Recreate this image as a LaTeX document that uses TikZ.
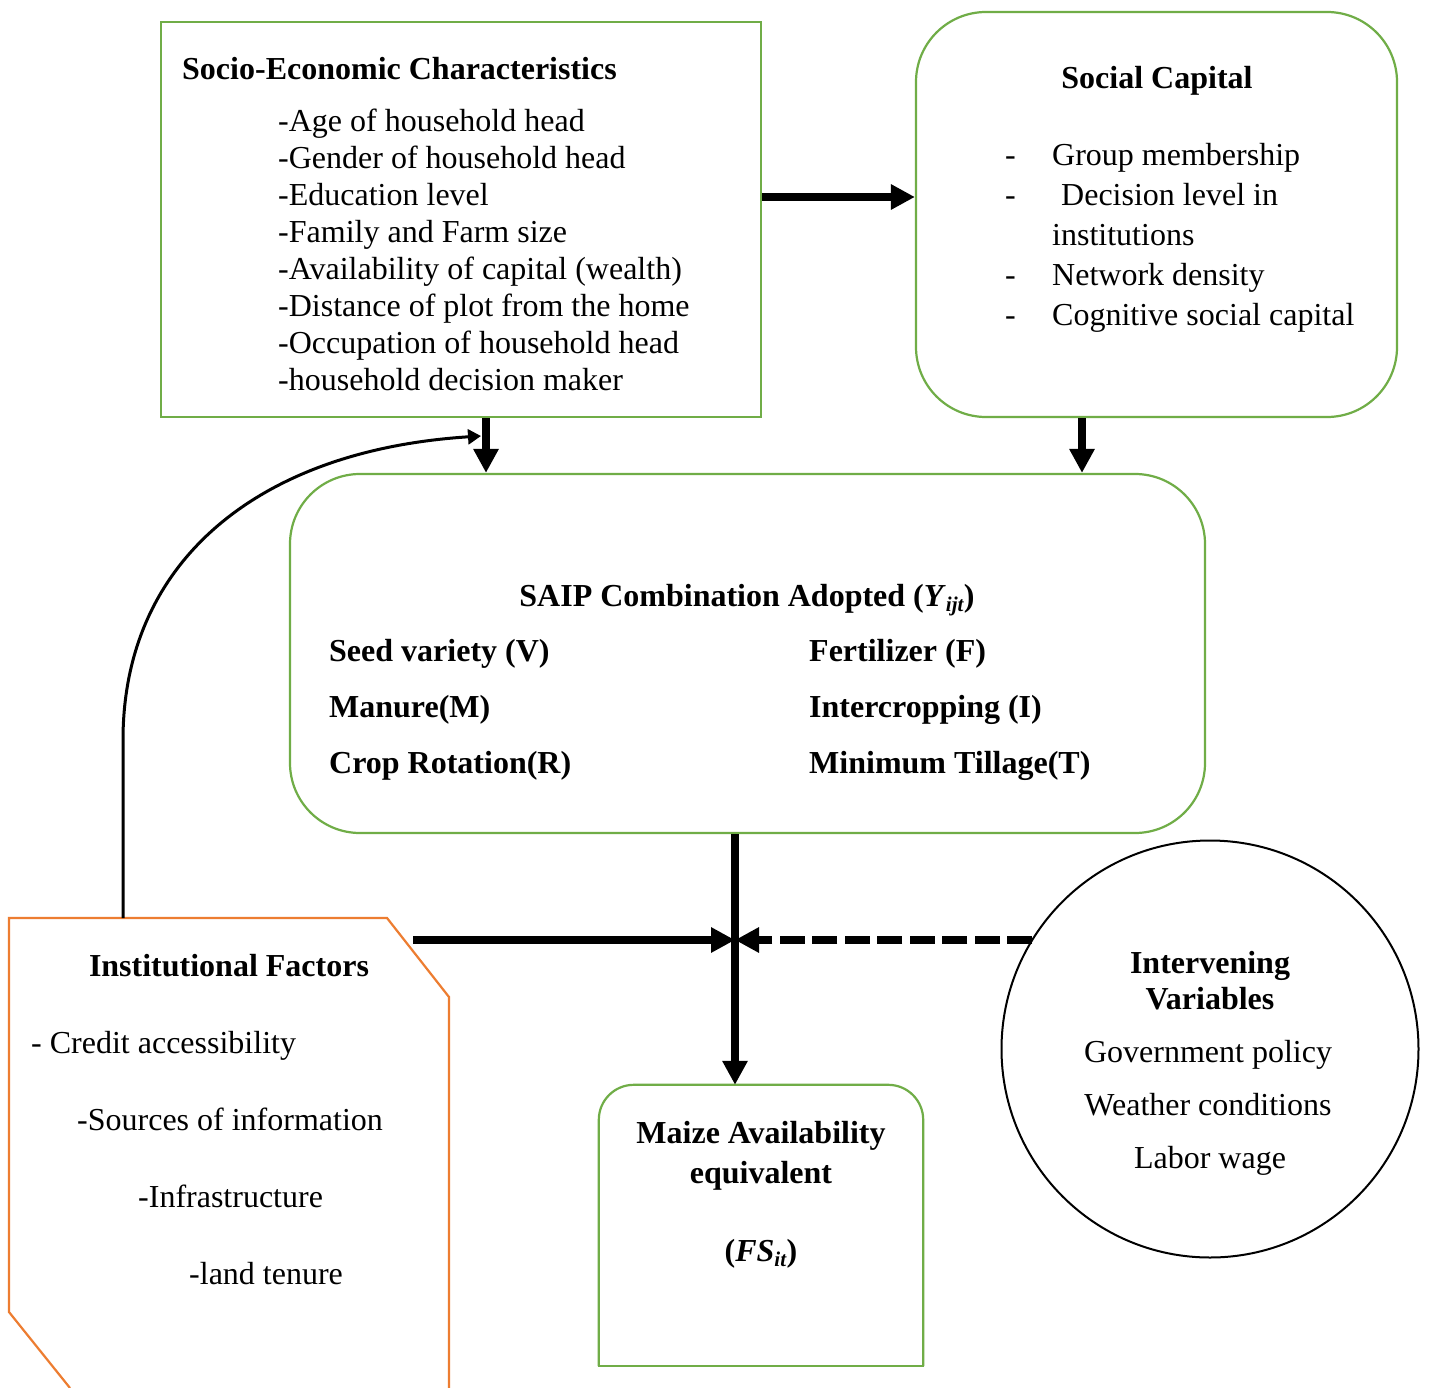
\documentclass[tikz,border=0pt]{standalone}
\usepackage{fontspec}
\setmainfont{Liberation Serif}
\usetikzlibrary{arrows.meta,calc}
\definecolor{boxgreen}{RGB}{112,173,71}
\definecolor{boxorange}{RGB}{237,125,49}
\tikzset{
  greenbox/.style={draw=boxgreen, line width=2.2pt, inner sep=0pt},
  txt/.style={inner sep=0pt, anchor=base west, font=\fontsize{32}{37}\selectfont},
  txtc/.style={inner sep=0pt, anchor=base, font=\fontsize{32}{37}\selectfont},
  bigarrow/.style={line width=8pt, -{Triangle[length=24pt,width=24pt]}},
  thinarrow/.style={line width=3pt, -{Triangle[length=13pt,width=15pt]}},
}
\begin{document}
\begin{tikzpicture}[x=1pt,y=-1pt]
\useasboundingbox (0,0) rectangle (1429,1388);
\fill[white] (0,0) rectangle (1429,1388);

% Socio-economic box
\node[greenbox, minimum width=600pt, minimum height=395pt] (sec) at (461,219.5) {};
\node[txt, font=\fontsize{32}{37}\selectfont\bfseries] (sectitle) at (182,80) {Socio-Economic Characteristics};
\foreach \t [count=\i from 0] in {{-Age of household head},{-Gender of household head},{-Education level},{-Family and Farm size},{-Availability of capital (wealth)},{-Distance of plot from the home},{-Occupation of household head},{-household decision maker}}
  \node[txt] (seitem\i) at (278,{132+36.9*\i}) {\t};

% Social capital box
\node[greenbox, rounded corners=70pt, minimum width=481pt, minimum height=405pt] (soc) at (1156.5,214.5) {};
\node[txtc, font=\fontsize{32}{37}\selectfont\bfseries] (soctitle) at (1157,89) {Social Capital};
\node[txt] (sd1) at (1005,166) {-};
\node[txt] (sd2) at (1005,206) {-};
\node[txt] (sd3) at (1005,285) {-};
\node[txt] (sd4) at (1005,325) {-};
\node[txt] (st1) at (1052,166) {Group membership};
\node[txt] (st2) at (1061,206) {Decision level in};
\node[txt] (st3) at (1052,246) {institutions};
\node[txt] (st4) at (1052,285) {Network density};
\node[txt] (st5) at (1052,325) {Cognitive social capital};

% SAIP box
\node[greenbox, rounded corners=70pt, minimum width=915pt, minimum height=359pt] (saip) at (747.5,653.5) {};
\node[txtc, font=\fontsize{32}{37}\selectfont\bfseries] (saiptitle) at (747,606) {SAIP Combination Adopted (\textit{Y}\raisebox{-0.18em}{\fontsize{21}{21}\selectfont\textit{ijt}})};
\node[txt, font=\fontsize{32}{37}\selectfont\bfseries] (v) at (329,661) {Seed variety (V)};
\node[txt, font=\fontsize{32}{37}\selectfont\bfseries] (mm) at (329,717) {Manure(M)};
\node[txt, font=\fontsize{32}{37}\selectfont\bfseries] (r) at (329,773) {Crop Rotation(R)};
\node[txt, font=\fontsize{32}{37}\selectfont\bfseries] (f) at (809,661) {Fertilizer (F)};
\node[txt, font=\fontsize{32}{37}\selectfont\bfseries] (ic) at (809,717) {Intercropping (I)};
\node[txt, font=\fontsize{32}{37}\selectfont\bfseries] (t) at (809,773) {Minimum Tillage(T)};

% Institutional factors
\node[inner sep=0pt, minimum width=440pt, minimum height=470pt] (inst) at (229,1153) {};
\draw[boxorange, line width=2.2pt, line join=miter]
  (70,1388) -- (9,1312) -- (9,918) -- (387,918) -- (449,997) -- (449,1392);
\node[txtc, font=\fontsize{32}{37}\selectfont\bfseries] (insttitle) at (229,976) {Institutional Factors};
\node[txt] (i1) at (31,1053) {- Credit accessibility};
\node[txt] (i2) at (77,1130) {-Sources of information};
\node[txt] (i3) at (138,1207) {-Infrastructure};
\node[txt] (i4) at (189,1284) {-land tenure};

% Maize box
\node[inner sep=0pt, minimum width=324pt, minimum height=281pt] (maize) at (761,1225.5) {};
\draw[boxgreen, line width=2.2pt, rounded corners=35pt]
  (maize.south west) -- (maize.north west) -- (maize.north east) -- (maize.south east);
\draw[boxgreen, line width=2.2pt, line cap=rect] (maize.south west) -- (maize.south east);
\node[txtc, font=\fontsize{32}{37}\selectfont\bfseries] (mz1) at (761,1143) {Maize Availability};
\node[txtc, font=\fontsize{32}{37}\selectfont\bfseries] (mz2) at (761,1183) {equivalent};
\node[txtc, font=\fontsize{32}{37}\selectfont\bfseries] (mz3) at (761,1261) {(\textit{FS}\raisebox{-0.18em}{\fontsize{21}{21}\selectfont\textit{it}})};

% Intervening circle
\node[draw, circle, line width=2pt, minimum size=417pt, inner sep=0pt] (circ) at (1210,1049) {};
\node[txtc, font=\fontsize{32}{37}\selectfont\bfseries] (c1) at (1210,973) {Intervening};
\node[txtc, font=\fontsize{32}{37}\selectfont\bfseries] (c2) at (1210,1009) {Variables};
\node[txtc] (c3) at (1208,1062) {Government policy};
\node[txtc] (c4) at (1208,1115) {Weather conditions};
\node[txtc] (c5) at (1210,1168) {Labor wage};

% connectors
\coordinate (x1) at (486,0);
\coordinate (x2) at (1082,0);
\coordinate (j) at (735,940);
\coordinate (hstart) at (413,940);
\coordinate (curvestart) at (123,918);
\coordinate (curveend) at (481,436);

\draw[bigarrow] ([yshift=22.5pt]sec.east) -- ([yshift=22.5pt]sec.east -| soc.west);
\draw[bigarrow] (sec.south -| x1) -- (saip.north -| x1);
\draw[bigarrow] (soc.south -| x2) -- (saip.north -| x2);
\draw[thinarrow] (curvestart) -- (123,740) .. controls (123,560) and (260,450) .. (curveend);
\draw[bigarrow] (saip.south -| j) -- (maize.north -| j);
\draw[bigarrow] (hstart) -- (j);
\draw[bigarrow, dash pattern=on 25pt off 7.5pt] (j -| circ.148.5) -- (j);
\end{tikzpicture}
\end{document}
